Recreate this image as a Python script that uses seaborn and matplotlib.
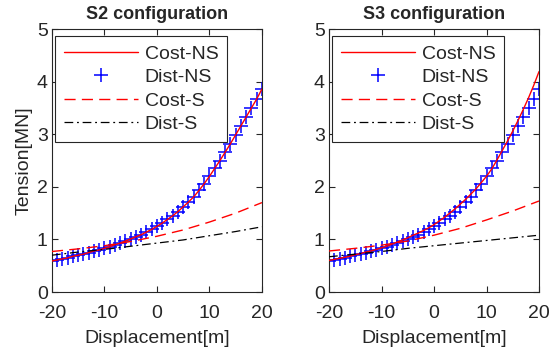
import matplotlib
matplotlib.use("Agg")
import matplotlib.pyplot as plt
import seaborn as sns

# ---------------- data ----------------
disp = list(range(-20, 21))
disp_coarse = [-20, -15, -10, -5, 0, 5, 10, 15, 20]

dist_ns = [0.59, 0.61, 0.63, 0.65, 0.68, 0.70, 0.72, 0.75, 0.78, 0.80,
           0.83, 0.86, 0.90, 0.93, 0.97, 1.01, 1.05, 1.09, 1.14, 1.19,
           1.25, 1.31, 1.38, 1.45, 1.53, 1.62, 1.71, 1.81, 1.93, 2.06,
           2.20, 2.35, 2.50, 2.66, 2.82, 2.99, 3.16, 3.33, 3.50, 3.67, 3.86]

cost_ns_s2 = [0.59, 0.61, 0.63, 0.65, 0.68, 0.70, 0.72, 0.75, 0.78, 0.80,
              0.83, 0.86, 0.90, 0.93, 0.97, 1.01, 1.05, 1.09, 1.14, 1.19,
              1.25, 1.31, 1.38, 1.45, 1.53, 1.62, 1.71, 1.81, 1.93, 2.06,
              2.20, 2.35, 2.50, 2.66, 2.82, 2.99, 3.16, 3.33, 3.50, 3.67, 3.86]

cost_ns_s3 = [0.60, 0.62, 0.64, 0.66, 0.68, 0.71, 0.73, 0.76, 0.78, 0.81,
              0.84, 0.87, 0.91, 0.95, 0.99, 1.03, 1.08, 1.12, 1.17, 1.22,
              1.28, 1.35, 1.42, 1.50, 1.58, 1.67, 1.76, 1.86, 1.96, 2.08,
              2.20, 2.34, 2.51, 2.69, 2.87, 3.06, 3.26, 3.47, 3.69, 3.93, 4.19]

cost_s_s2 = [0.77, 0.82, 0.88, 0.96, 1.06, 1.18, 1.33, 1.50, 1.70]
dist_s_s2 = [0.70, 0.76, 0.81, 0.87, 0.93, 0.99, 1.07, 1.15, 1.24]
cost_s_s3 = [0.78, 0.83, 0.89, 0.97, 1.08, 1.21, 1.37, 1.54, 1.73]
dist_s_s3 = [0.67, 0.72, 0.77, 0.83, 0.88, 0.93, 0.98, 1.03, 1.08]

titles = ["S2 configuration", "S3 configuration"]
series_labels = ["Cost-NS", "Dist-NS", "Cost-S", "Dist-S"]
x_ticks = [-20, -10, 0, 10, 20]
x_tick_labels = ["-20", "-10", "0", "10", "20"]
y_ticks = [0, 1, 2, 3, 4, 5]

# ---------------- style ----------------
sns.set_style("ticks")
plt.rcParams["font.family"] = ["Liberation Sans", "DejaVu Sans"]
axis_col = "#262626"
plt.rcParams.update({
    "axes.edgecolor": axis_col,
    "axes.linewidth": 0.8,
    "xtick.color": axis_col,
    "ytick.color": axis_col,
    "axes.labelcolor": axis_col,
    "text.color": axis_col,
    "xtick.direction": "in",
    "ytick.direction": "in",
})

fig = plt.figure(figsize=(5.5, 3.49), dpi=100)
ax_pos = [[0.0945, 0.1633, 0.3818, 0.7536],
          [0.5982, 0.1633, 0.3818, 0.7536]]

panels = [
    (cost_ns_s2, cost_s_s2, dist_s_s2),
    (cost_ns_s3, cost_s_s3, dist_s_s3),
]

for i, (cost_ns, cost_s, dist_s) in enumerate(panels):
    ax = fig.add_axes(ax_pos[i])
    sns.lineplot(x=disp, y=dist_ns, ax=ax, color="blue", marker="+",
                 linestyle="none", markersize=10, markeredgewidth=1.1,
                 markeredgecolor="blue", label=series_labels[1], zorder=2)
    sns.lineplot(x=disp, y=cost_ns, ax=ax, color="red", linewidth=1.0,
                 label=series_labels[0], zorder=3)
    sns.lineplot(x=disp_coarse, y=cost_s, ax=ax, color="red", linewidth=1.0,
                 label=series_labels[2], zorder=3)
    ax.lines[-1].set_dashes([8, 4.5])
    sns.lineplot(x=disp_coarse, y=dist_s, ax=ax, color="black", linewidth=0.9,
                 label=series_labels[3], zorder=3)
    ax.lines[-1].set_dashes([7, 3, 1.5, 3])

    ax.set_xlim(-20, 20)
    ax.set_ylim(0, 5)
    ax.set_xticks(x_ticks)
    ax.set_yticks(y_ticks)
    ax.set_xticklabels(x_tick_labels)
    ax.tick_params(axis="both", labelsize=14, length=4, width=0.8,
                   top=True, right=True)
    ax.tick_params(axis="x", pad=9)
    ax.tick_params(axis="y", pad=3)
    for s in ax.spines.values():
        s.set_visible(True)
    ax.set_xlabel("Displacement[m]", fontsize=14, labelpad=6)
    if i == 0:
        ax.set_ylabel("Tension[MN]", fontsize=14, labelpad=3)
    else:
        ax.set_ylabel("")
    ax.set_title(titles[i], fontsize=13, fontweight="bold", pad=7)

    handles, labels = ax.get_legend_handles_labels()
    order = [labels.index(l) for l in series_labels]
    leg = ax.legend([handles[k] for k in order], [labels[k] for k in order],
                    loc="upper left", bbox_to_anchor=(0.015, 0.972),
                    fontsize=14, handlelength=3.8, handletextpad=0.35,
                    borderpad=0.45, labelspacing=0.3, borderaxespad=0,
                    frameon=True, fancybox=False, framealpha=1,
                    edgecolor=axis_col)
    leg.get_frame().set_linewidth(0.8)

fig.savefig("out.png", dpi=100)
